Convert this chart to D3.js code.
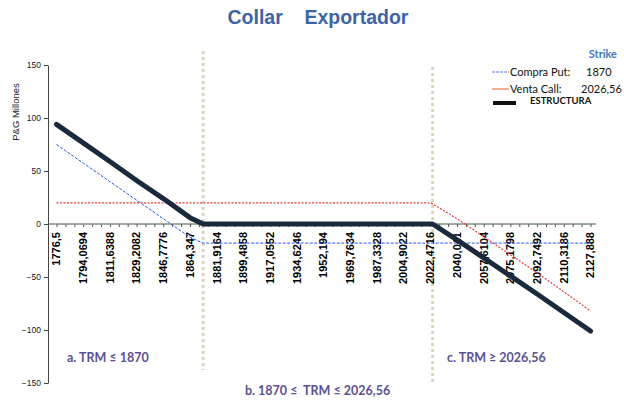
<!DOCTYPE html>
<html>
<head>
<meta charset="utf-8">
<script src="https://cdn.jsdelivr.net/npm/d3@7"></script>
<style>
  body { margin: 0; background: #fff; }
  svg { display: block; }
</style>
</head>
<body>
<svg id="chart" width="624" height="402"></svg>
<script>
//-- data --//
var trm = [1776.5, 1794.0694, 1811.6388, 1829.2082, 1846.7776, 1864.347, 1873,
           1881.9164, 1899.4858, 1917.0552, 1934.6246, 1952.194, 1969.7634,
           1987.3328, 2004.9022, 2022.4716, 2024, 2040.041, 2057.6104,
           2075.1798, 2092.7492, 2110.3186, 2127.888];
var compraPut  = [75, 57.5, 40, 22.5, 5, -12.5, -18, -18, -18, -18, -18, -18, -18,
                  -18, -18, -18, -18, -18, -18, -18, -18, -18, -18];
var ventaCall  = [20, 20, 20, 20, 20, 20, 20, 20, 20, 20, 20, 20, 20,
                  20, 20, 20, 19, 5, -12, -29, -46, -64, -82];
var estructura = [94, 76.5, 59, 41, 24, 6, 0, 0, 0, 0, 0, 0, 0,
                  0, 0, 0, 0, -15, -32, -49, -66, -83.5, -101];
var labelTicks = [1776.5, 1794.0694, 1811.6388, 1829.2082, 1846.7776, 1864.347,
                  1881.9164, 1899.4858, 1917.0552, 1934.6246, 1952.194, 1969.7634,
                  1987.3328, 2004.9022, 2022.4716, 2040.041, 2057.6104, 2075.1798,
                  2092.7492, 2110.3186, 2127.888];
var yTicks = [-150, -100, -50, 0, 50, 100, 150];
var strikeMarks = [1873, 2024];
var legendRows = ["Compra Put:", "Venta Call:"];
var legendValues = ["1870", "2026,56"];
//-- data --//

var svg = d3.select("#chart");

var x = d3.scaleLinear().domain([1776.5, 2127.888]).range([56.5, 590.5]);
var y = d3.scaleLinear().domain([-150, 150]).range([383, 65]);

//-- title --//
svg.append("text")
  .attr("x", 318).attr("y", 24)
  .attr("text-anchor", "middle")
  .style("font-family", "Liberation Sans, Arial")
  .style("font-weight", "bold")
  .style("font-size", "19.5px")
  .style("white-space", "pre")
  .attr("fill", "#3e64a6")
  .text("Collar    Exportador");

//-- strike markers --//
svg.append("line")
  .attr("x1", x(strikeMarks[0])).attr("x2", x(strikeMarks[0]))
  .attr("y1", 51).attr("y2", 370)
  .attr("stroke", "#d9d5bf").attr("stroke-width", 3)
  .attr("stroke-dasharray", "3,3");
svg.append("line")
  .attr("x1", x(strikeMarks[1])).attr("x2", x(strikeMarks[1]))
  .attr("y1", 67).attr("y2", 385)
  .attr("stroke", "#d9d5bf").attr("stroke-width", 3)
  .attr("stroke-dasharray", "3,3");

//-- y axis --//
var yAxis = svg.append("g")
  .attr("transform", "translate(48,0)")
  .call(d3.axisLeft(y).tickValues(yTicks).tickSize(4).tickSizeOuter(0));
yAxis.select(".domain").attr("stroke", "#444");
yAxis.selectAll("line").attr("stroke", "#444");
yAxis.selectAll("text")
  .style("font-family", "Liberation Sans, Arial")
  .style("font-size", "8.5px")
  .attr("fill", "#222");

svg.append("text")
  .attr("transform", "translate(19,112) rotate(-90)")
  .attr("text-anchor", "middle")
  .style("font-family", "Liberation Sans, Arial")
  .style("font-size", "9.5px")
  .attr("fill", "#222")
  .text("P&G Millones");

//-- x axis --//
var minor = d3.range(0, 61).map(i => 1776.5 + i * (2127.888 - 1776.5) / 60);
var xAxis = svg.append("g")
  .attr("transform", `translate(0,${y(0)})`)
  .call(d3.axisBottom(x).tickValues(minor).tickSize(3).tickSizeOuter(0).tickFormat(""));
xAxis.select(".domain").attr("d", "M48,0H596").attr("stroke", "#555");
xAxis.selectAll("line").attr("stroke", "#555");

svg.append("line")
  .attr("x1", 50).attr("x2", 596)
  .attr("y1", y(0)).attr("y2", y(0))
  .attr("stroke", "#7fb07f").attr("stroke-width", 1)
  .attr("stroke-dasharray", "1.5,1.5");

svg.append("g").selectAll("text")
  .data(labelTicks)
  .enter().append("text")
  .attr("transform", d => `translate(${x(d)},${y(0) + 8}) rotate(-90)`)
  .attr("dy", "0.35em")
  .attr("text-anchor", "end")
  .style("font-family", "Liberation Sans, Arial")
  .style("font-weight", "bold")
  .style("font-size", "11px")
  .attr("fill", "#000")
  .text(d => String(d).replace(".", ","));

//-- series --//
var line = d3.line().x((d, i) => x(trm[i])).y(d => y(d));

svg.append("path").datum(compraPut)
  .attr("d", line).attr("fill", "none")
  .attr("stroke", "#2f55f0").attr("stroke-width", 1)
  .attr("stroke-dasharray", "3,1.5");

svg.append("path").datum(ventaCall)
  .attr("d", line).attr("fill", "none")
  .attr("stroke", "#f03a3a").attr("stroke-width", 1.2)
  .attr("stroke-dasharray", "2,1.5");

svg.append("path").datum(estructura)
  .attr("d", line).attr("fill", "none")
  .attr("stroke", "#1b2a3b").attr("stroke-width", 5)
  .attr("stroke-linecap", "round").attr("stroke-linejoin", "round");

//-- legend --//
var legend = svg.append("g").style("font-family", "Lato, sans-serif");
legend.append("text")
  .attr("x", 617).attr("y", 58)
  .attr("text-anchor", "end")
  .style("font-size", "11px").style("font-weight", "bold")
  .attr("fill", "#4a74c0")
  .text("Strike");

var legendColors = ["#5a7fd0", "#e8602a"];
legendRows.forEach(function(r, i) {
  var ly = 72 + i * 17;
  legend.append("line")
    .attr("x1", 492).attr("x2", 509).attr("y1", ly).attr("y2", ly)
    .attr("stroke", legendColors[i]).attr("stroke-width", 1)
    .attr("stroke-dasharray", i == 0 ? "3,1" : null);
  legend.append("text")
    .attr("x", 510).attr("y", ly + 3.5)
    .style("font-size", "11px").attr("fill", "#111")
    .text(r);
  legend.append("text")
    .attr("x", i == 0 ? 586 : 581).attr("y", ly + 3.5)
    .style("font-size", "11px").attr("fill", "#111")
    .text(legendValues[i]);
});
legend.append("line")
  .attr("x1", 493).attr("x2", 516).attr("y1", 103).attr("y2", 103)
  .attr("stroke", "#111").attr("stroke-width", 4);
legend.append("text")
  .attr("x", 530).attr("y", 104)
  .style("font-size", "9.5px").style("font-weight", "bold")
  .attr("fill", "#111")
  .text("ESTRUCTURA");

//-- zone annotations --//
var notes = svg.append("g")
  .style("font-family", "Lato, sans-serif")
  .style("font-size", "12.5px").style("font-weight", "bold")
  .attr("fill", "#5b5192");
notes.append("text").attr("x", 67).attr("y", 362).text("a. TRM ≤ 1870");
notes.append("text").attr("x", 245).attr("y", 395)
  .style("white-space", "pre")
  .text("b. 1870 ≤  TRM ≤ 2026,56");
notes.append("text").attr("x", 447).attr("y", 362).text("c. TRM ≥ 2026,56");
</script>
</body>
</html>
